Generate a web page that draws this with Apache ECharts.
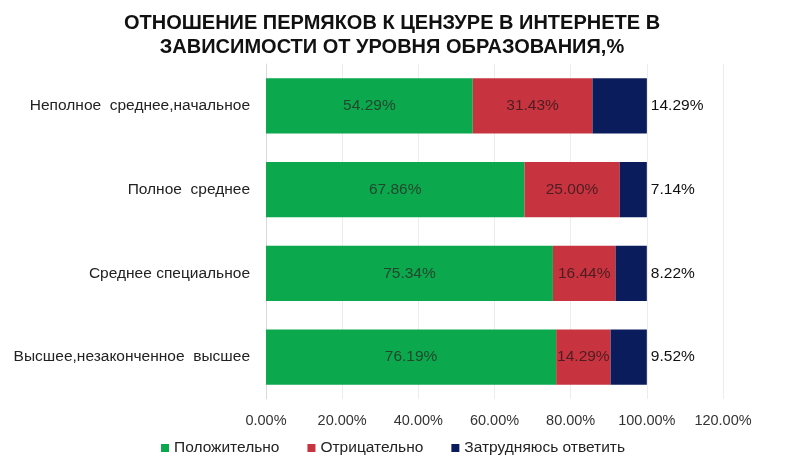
<!DOCTYPE html>
<html><head><meta charset="utf-8">
<script src="https://cdn.jsdelivr.net/npm/echarts@6/dist/echarts.min.js"></script>
<style>html,body{margin:0;padding:0;background:#fff}#c{width:812px;height:461px}</style>
</head><body><div id="c"></div>
<script>
const categories = ["Неполное  среднее,начальное", "Полное  среднее", "Среднее специальное", "Высшее,незаконченное  высшее"];
const positive = [54.29, 67.86, 75.34, 76.19];
const negative = [31.43, 25.00, 16.44, 14.29];
const unsure = [14.29, 7.14, 8.22, 9.52];
const seriesNames = ["Положительно", "Отрицательно", "Затрудняюсь ответить"];
const xTicks = [0, 20, 40, 60, 80, 100, 120];

const chart = echarts.init(document.getElementById('c'));
const fmt = p => p.value.toFixed(2) + '%';
const F = '"Liberation Sans", Arial';
chart.setOption({
  animation: false,
  title: {
    text: 'ОТНОШЕНИЕ ПЕРМЯКОВ К ЦЕНЗУРЕ В ИНТЕРНЕТЕ В\nЗАВИСИМОСТИ ОТ УРОВНЯ ОБРАЗОВАНИЯ,%',
    left: 387, top: 6, textAlign: 'center',
    textStyle: { fontFamily: '"Liberation Sans Narrow", "Liberation Sans", Arial', fontWeight: 'bold', fontSize: 20, lineHeight: 24, color: '#111' }
  },
  legend: {
    bottom: 0, left: 156,
    itemWidth: 8, itemHeight: 8, itemGap: 28, icon: 'rect',
    textStyle: { fontFamily: F, fontSize: 15.5, color: '#222' },
    data: seriesNames
  },
  grid: { left: 266, right: 89, top: 64, bottom: 62 },
  xAxis: {
    type: 'value', min: 0, max: 120, interval: 20,
    axisLabel: { formatter: v => xTicks.includes(v) ? v.toFixed(2) + '%' : '', fontFamily: F, fontSize: 14.5, color: '#333', margin: 14 },
    splitLine: { show: true, lineStyle: { color: '#ececec' } },
    axisLine: { show: false }, axisTick: { show: false }
  },
  yAxis: {
    type: 'category', data: categories, inverse: true,
    axisLabel: { fontFamily: F, fontSize: 15.5, color: '#222', margin: 16 },
    axisLine: { show: true, lineStyle: { color: '#d9d9d9' } },
    axisTick: { show: false }
  },
  series: [
    { name: seriesNames[0], type: 'bar', stack: 's', data: positive, barCategoryGap: '34%',
      itemStyle: { color: '#0ba84e' },
      label: { show: true, position: 'inside', formatter: fmt, fontFamily: F, fontSize: 15.5, color: '#22472c' } },
    { name: seriesNames[1], type: 'bar', stack: 's', data: negative,
      itemStyle: { color: '#c7343f' },
      label: { show: true, position: 'inside', formatter: fmt, fontFamily: F, fontSize: 15.5, color: '#4d1d22' } },
    { name: seriesNames[2], type: 'bar', stack: 's', data: unsure,
      itemStyle: { color: '#0b1c5c' },
      label: { show: true, position: 'right', distance: 4, formatter: fmt, fontFamily: F, fontSize: 15.5, color: '#111' } }
  ]
});
</script></body></html>
